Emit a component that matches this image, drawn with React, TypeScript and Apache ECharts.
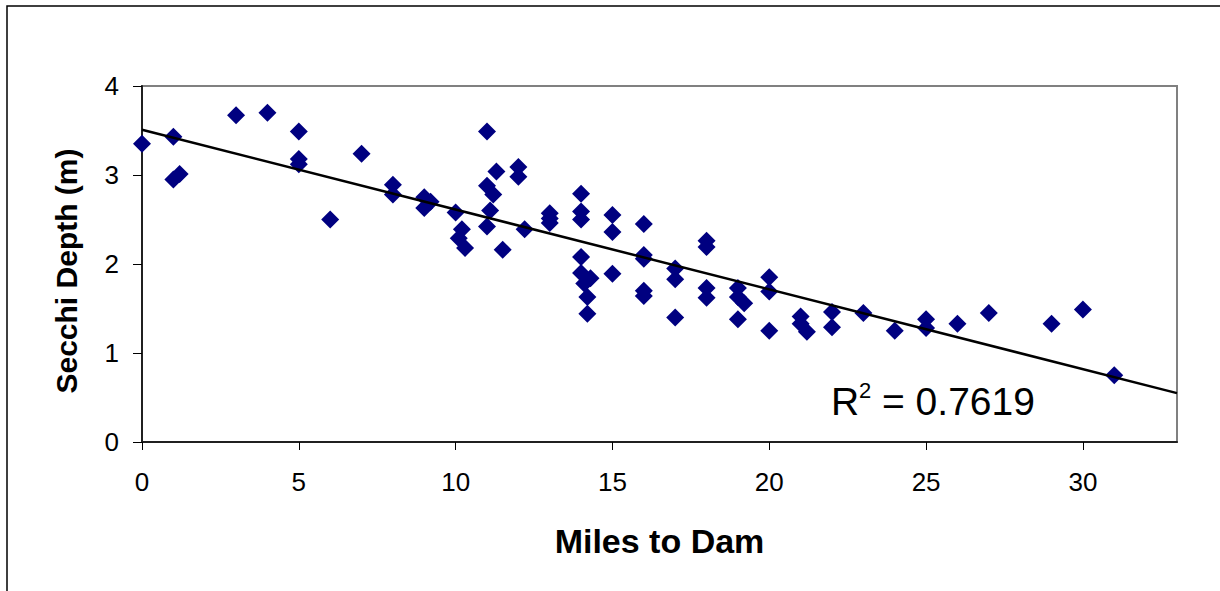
import React, { useEffect, useRef } from "react";
import * as echarts from "echarts";

// Distance upstream of the dam (miles) for each Secchi reading
const miles: number[] = [
  0, 1, 1, 1.2, 3, 4, 5, 5, 5, 6, 7, 8, 8, 9, 9.2, 9, 10, 10.2, 10.1, 10.3,
  11, 11, 11.2, 11.1, 11, 11.3, 11.5, 12, 12, 12.2, 13, 13, 13, 14, 14, 14,
  14, 14, 14.3, 14.1, 14.2, 14.2, 15, 15, 15, 16, 16, 16, 16, 16, 17, 17, 17,
  18, 18, 18, 18, 19, 19, 19.2, 19, 20, 20, 20, 21, 21, 21.2, 22, 22, 23, 24,
  25, 25, 26, 27, 29, 30, 31,
];

// Secchi disk depth (m)
const depth: number[] = [
  3.35, 3.43, 2.95, 3.01, 3.67, 3.7, 3.49, 3.18, 3.12, 2.5, 3.24, 2.89, 2.78,
  2.75, 2.7, 2.63, 2.58, 2.39, 2.29, 2.18, 3.49, 2.88, 2.78, 2.6, 2.42, 3.04,
  2.16, 3.09, 2.98, 2.39, 2.57, 2.51, 2.46, 2.79, 2.59, 2.5, 2.08, 1.9, 1.84,
  1.78, 1.63, 1.44, 2.55, 2.36, 1.89, 2.45, 2.1, 2.06, 1.7, 1.64, 1.95, 1.83,
  1.4, 2.26, 2.19, 1.73, 1.62, 1.73, 1.63, 1.56, 1.38, 1.85, 1.69, 1.25, 1.41,
  1.33, 1.24, 1.46, 1.29, 1.45, 1.25, 1.38, 1.28, 1.33, 1.45, 1.33, 1.49,
  0.75,
];

const xTicks: number[] = [0, 5, 10, 15, 20, 25, 30];
const yTicks: number[] = [0, 1, 2, 3, 4];
const X_MAX = 33;
const R_SQUARED = "0.7619";

const FONT = "'Liberation Sans', Arial, Helvetica, sans-serif";

// Ordinary least-squares fit of depth on miles
function linearFit(xs: number[], ys: number[]) {
  const n = xs.length;
  let sx = 0, sy = 0, sxx = 0, sxy = 0;
  for (let i = 0; i < n; i++) {
    sx += xs[i];
    sy += ys[i];
    sxx += xs[i] * xs[i];
    sxy += xs[i] * ys[i];
  }
  const slope = (n * sxy - sx * sy) / (n * sxx - sx * sx);
  const intercept = (sy - slope * sx) / n;
  return { slope, intercept };
}

export default function App() {
  const ref = useRef<HTMLDivElement>(null);

  useEffect(() => {
    if (!ref.current) return;
    const chart = echarts.init(ref.current, undefined, { renderer: "svg" });
    const points = miles.map((m, i) => [m, depth[i]]);
    const fit = linearFit(miles, depth);
    const trend = [
      [0, fit.intercept],
      [X_MAX, fit.intercept + fit.slope * X_MAX],
    ];

    chart.setOption({
      animation: false,
      backgroundColor: "#ffffff",
      grid: {
        left: 142,
        top: 86,
        width: 1035,
        height: 356,
        show: true,
        borderColor: "#808080",
        borderWidth: 2,
        backgroundColor: "#ffffff",
      },
      xAxis: {
        type: "value",
        min: 0,
        max: X_MAX,
        interval: 5,
        splitLine: { show: false },
        axisLine: { show: true, lineStyle: { color: "#202020", width: 2 } },
        axisTick: {
          show: true,
          length: 8,
          customValues: xTicks,
          lineStyle: { color: "#000000", width: 1 },
        },
        axisLabel: {
          customValues: xTicks,
          margin: 27,
          fontSize: 26,
          fontFamily: FONT,
          color: "#000000",
        },
        name: "Miles to Dam",
        nameLocation: "middle",
        nameGap: 82,
        nameTextStyle: {
          fontSize: 34,
          fontWeight: "bold",
          fontFamily: FONT,
          color: "#000000",
        },
      },
      yAxis: {
        type: "value",
        min: 0,
        max: 4,
        interval: 1,
        splitLine: { show: false },
        axisLine: { show: true, lineStyle: { color: "#202020", width: 2 } },
        axisTick: {
          show: true,
          length: 9,
          customValues: yTicks,
          lineStyle: { color: "#000000", width: 1 },
        },
        axisLabel: {
          customValues: yTicks,
          margin: 23,
          fontSize: 26,
          fontFamily: FONT,
          color: "#000000",
        },
        name: "Secchi Depth (m)",
        nameLocation: "middle",
        nameGap: 61,
        nameRotate: 90,
        nameTextStyle: {
          fontSize: 30,
          fontWeight: "bold",
          fontFamily: FONT,
          color: "#000000",
          padding: [0, 14, 0, 0],
        },
      },
      series: [
        {
          type: "scatter",
          data: points,
          symbol: "diamond",
          symbolSize: 18,
          itemStyle: { color: "#000080", opacity: 1 },
          z: 2,
        },
        {
          type: "line",
          data: trend,
          showSymbol: false,
          symbol: "none",
          lineStyle: { color: "#000000", width: 2.5 },
          z: 3,
        },
      ],
      graphic: [
        {
          type: "rect",
          silent: true,
          shape: { x: 7, y: 6, width: 1400, height: 800 },
          style: { fill: "none", stroke: "#000000", lineWidth: 1.5 },
          z: 10,
        },
        {
          type: "text",
          x: 831,
          y: 401,
          style: {
            text: "R",
            font: `39px ${FONT}`,
            fill: "#000000",
            verticalAlign: "middle",
          },
        },
        {
          type: "text",
          x: 859,
          y: 390,
          style: {
            text: "2",
            font: `22px ${FONT}`,
            fill: "#000000",
            verticalAlign: "middle",
          },
        },
        {
          type: "text",
          x: 882,
          y: 401,
          style: {
            text: `= ${R_SQUARED}`,
            font: `39px ${FONT}`,
            fill: "#000000",
            verticalAlign: "middle",
          },
        },
      ],
    });

    return () => {
      chart.dispose();
    };
  }, []);

  return (
    <div
      ref={ref}
      style={{ position: "absolute", left: 0, top: 0, width: 1220, height: 591 }}
    />
  );
}
